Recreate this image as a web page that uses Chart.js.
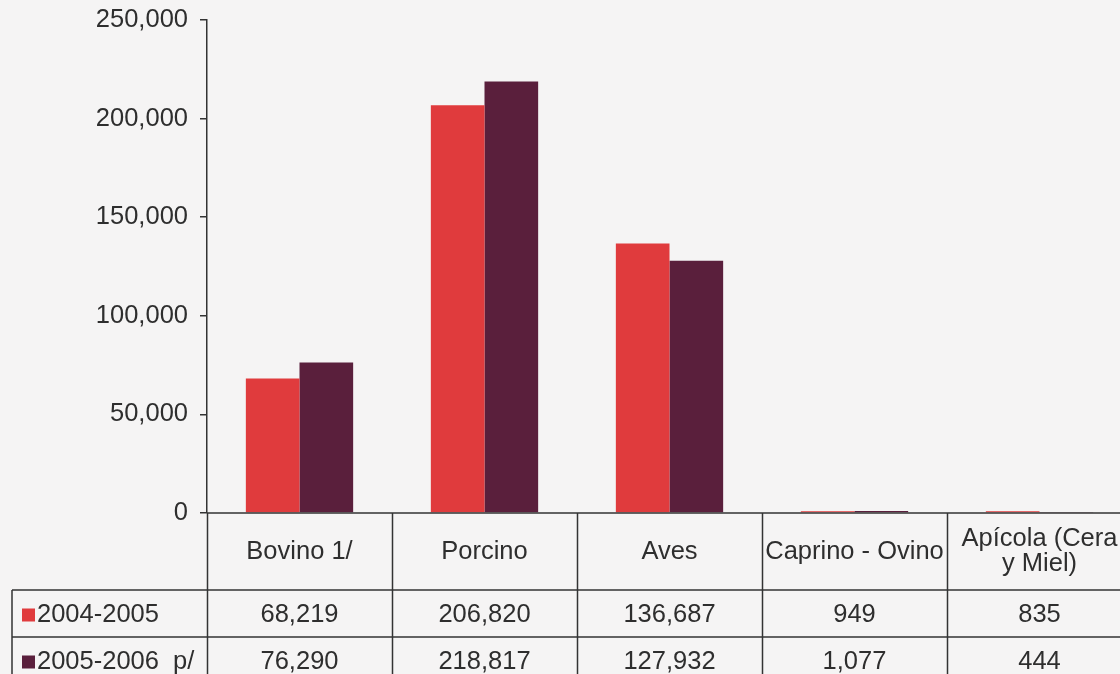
<!DOCTYPE html>
<html>
<head>
<meta charset="utf-8">
<script src="https://cdn.jsdelivr.net/npm/chart.js@4.4.1/dist/chart.umd.min.js"></script>
<style>
  html, body { margin: 0; padding: 0; overflow: hidden; background: #f5f4f4; }
  #wrap { width: 1120px; height: 674px; overflow: hidden; }
  canvas { display: block; }
</style>
</head>
<body>
<div id="wrap"><canvas id="c" width="1134" height="674"></canvas></div>
<script>
const categories = [['Bovino 1/'], ['Porcino'], ['Aves'], ['Caprino - Ovino'], ['Apícola (Cera', 'y Miel)']];
const seriesNames = ['2004-2005', '2005-2006  p/'];
const values2004 = [68219, 206820, 136687, 949, 835];
const values2005 = [76290, 218817, 127932, 1077, 444];
const tableText2004 = ['68,219', '206,820', '136,687', '949', '835'];
const tableText2005 = ['76,290', '218,817', '127,932', '1,077', '444'];
const yTicks = [0, 50000, 100000, 150000, 200000, 250000];

const colors = ['#e03b3d', '#5a1f3c'];
const lineColor = '#333333';
const textColor = '#2e2e2e';
const fontFamily = '"Liberation Sans", Arial, sans-serif';
const fontSize = 25.5;

const tablePlugin = {
  id: 'dataTable',
  beforeDraw(chart) {
    const ctx = chart.ctx;
    ctx.save();
    ctx.fillStyle = '#f5f4f4';
    ctx.fillRect(0, 0, chart.width, chart.height);
    ctx.restore();
  },
  afterDraw(chart) {
    const ctx = chart.ctx;
    const area = chart.chartArea;
    const x = chart.scales.x;
    const n = categories.length;
    const colW = (area.right - area.left) / n;
    const headerBottom = area.bottom + 77;
    const rowH = 47;
    const row1Bottom = headerBottom + rowH;
    const row2Bottom = row1Bottom + rowH;
    const tableLeft = 12;
    ctx.save();
    ctx.strokeStyle = lineColor;
    ctx.lineWidth = 1.5;
    ctx.beginPath();
    ctx.moveTo(area.left, area.bottom);
    ctx.lineTo(chart.width, area.bottom);
    for (let i = 0; i <= n; i++) {
      const bx = Math.round(area.left + i * colW) + 0.5;
      ctx.moveTo(bx, area.bottom);
      ctx.lineTo(bx, row2Bottom);
    }
    [headerBottom, row1Bottom, row2Bottom].forEach(y => {
      ctx.moveTo(tableLeft, y);
      ctx.lineTo(chart.width, y);
    });
    ctx.moveTo(tableLeft, headerBottom);
    ctx.lineTo(tableLeft, row2Bottom);
    ctx.stroke();

    ctx.fillStyle = textColor;
    ctx.font = fontSize + 'px ' + fontFamily;
    ctx.textAlign = 'center';
    ctx.textBaseline = 'middle';
    categories.forEach((lines, i) => {
      const cx = x.getPixelForValue(i);
      const cy = (area.bottom + headerBottom) / 2;
      const lh = 25;
      lines.forEach((t, k) => {
        ctx.fillText(t, cx, cy + (k - (lines.length - 1) / 2) * lh);
      });
    });
    const rows = [tableText2004, tableText2005];
    rows.forEach((r, ri) => {
      const cy = headerBottom + rowH * ri + rowH / 2 + 1;
      r.forEach((t, i) => {
        ctx.fillText(t, x.getPixelForValue(i), cy);
      });
      ctx.fillStyle = colors[ri];
      ctx.fillRect(22, cy - 6, 13, 13);
      ctx.fillStyle = textColor;
      ctx.textAlign = 'left';
      ctx.fillText(seriesNames[ri], 37, cy);
      ctx.textAlign = 'center';
    });
    ctx.restore();
  }
};

new Chart(document.getElementById('c'), {
  type: 'bar',
  data: {
    labels: categories,
    datasets: [
      { label: seriesNames[0], data: values2004, backgroundColor: colors[0], borderWidth: 0 },
      { label: seriesNames[1], data: values2005, backgroundColor: colors[1], borderWidth: 0 }
    ]
  },
  options: {
    responsive: false,
    animation: false,
    devicePixelRatio: 1,
    layout: { padding: { top: 20, bottom: 161, left: 0, right: 2 } },
    plugins: { legend: { display: false }, tooltip: { enabled: false } },
    datasets: { bar: { categoryPercentage: 0.58, barPercentage: 1.0 } },
    scales: {
      x: { display: false },
      y: {
        min: 0, max: 250000,
        afterFit(s) { s.width = 207; s.paddingTop = 0; s.paddingBottom = 0; },
        afterBuildTicks(s) { s.ticks = yTicks.map(v => ({ value: v })); },
        grid: { drawOnChartArea: false, tickLength: 7, color: lineColor, lineWidth: 1.5 },
        border: { color: lineColor, width: 1.5 },
        ticks: {
          color: textColor, padding: 12,
          font: { family: fontFamily, size: fontSize },
          callback: v => v.toLocaleString('en-US')
        }
      }
    }
  },
  plugins: [tablePlugin]
});
</script>
</body>
</html>
